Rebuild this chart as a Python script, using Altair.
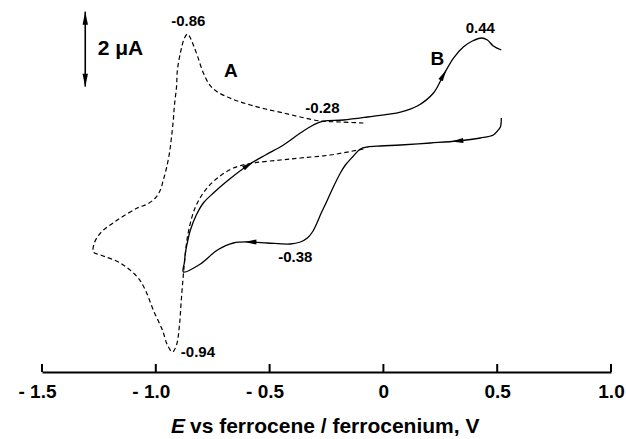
import math
import altair as alt
import pandas as pd

# ---- data (potential in V, current in uA, relative zero) ----
# Curve A (dashed)
dash_E = [-0.088, -0.189, -0.277, -0.365, -0.439, -0.518, -0.584, -0.641, -0.685, -0.729,
          -0.760, -0.791, -0.817, -0.835, -0.848, -0.861, -0.874, -0.892, -0.905, -0.909,
          -0.918, -0.923, -0.931, -0.940, -0.953, -0.967, -0.980, -1.002, -1.037, -1.081,
          -1.169, -1.243, -1.270, -1.274, -1.243, -1.156, -1.081, -1.046, -1.011, -0.971,
          -0.949, -0.927, -0.909, -0.896, -0.888, -0.879, -0.870, -0.857, -0.826, -0.782,
          -0.729, -0.659, -0.571, -0.453, -0.365, -0.233, -0.088]
dash_I = [0.72, 0.747, 0.773, 0.88, 0.987, 1.093, 1.2, 1.307, 1.413, 1.547,
          1.707, 2.053, 2.507, 2.80, 2.987, 3.093, 2.987, 2.587, 2.133, 1.68,
          1.2, 0.8, 0.347, -0.08, -0.48, -0.8, -1.067, -1.28, -1.44, -1.547,
          -1.867, -2.213, -2.48, -2.72, -2.80, -3.013, -3.387, -3.733, -4.267, -4.80,
          -5.20, -5.387, -5.20, -4.667, -4.0, -3.333, -2.747, -2.187, -1.52, -1.067,
          -0.747, -0.48, -0.347, -0.267, -0.213, -0.133, 0.027]

# Curve B (solid)
solid_E = [0.518, 0.514, 0.501, 0.483, 0.426, 0.325, 0.207, 0.075, -0.013, -0.070,
           -0.101, -0.136, -0.167, -0.189, -0.220, -0.246, -0.277, -0.290, -0.312, -0.334,
           -0.365, -0.409, -0.510, -0.584, -0.659, -0.729, -0.804, -0.879, -0.874, -0.870,
           -0.857, -0.848, -0.822, -0.791, -0.747, -0.681, -0.593, -0.518, -0.439, -0.365,
           -0.308, -0.264, -0.176, -0.070, 0.075, 0.149, 0.220, 0.264, 0.308, 0.351,
           0.391, 0.431, 0.457, 0.483, 0.518]
solid_I = [0.853, 0.613, 0.507, 0.40, 0.32, 0.24, 0.187, 0.133, 0.107, 0.08,
           0.027, -0.187, -0.40, -0.613, -0.987, -1.333, -1.733, -1.92, -2.187, -2.347,
           -2.453, -2.507, -2.48, -2.453, -2.48, -2.667, -3.04, -3.253, -2.987, -2.747,
           -2.347, -2.133, -1.733, -1.413, -1.147, -0.80, -0.40, -0.133, 0.133, 0.453,
           0.667, 0.773, 0.80, 0.88, 1.013, 1.173, 1.52, 2.0, 2.453, 2.747,
           2.907, 2.987, 2.933, 2.773, 2.667]

# indices on curve B where scan-direction arrows sit
arrow_idx = [5, 23, 36, 47]

tick_values = [-1.5, -1.0, -0.5, 0.0, 0.5, 1.0]
tick_labels = ["- 1.5", "- 1.0", "- 0.5", "0", "0.5", "1.0"]

peak_labels = ["-0.86", "-0.28", "0.44", "-0.38", "-0.94"]
peak_E = [-0.857, -0.268, 0.426, -0.387, -0.815]
peak_I = [3.307, 0.987, 3.12, -2.979, -5.507]

curve_labels = ["A", "B"]
curve_label_E = [-0.670, 0.237]
curve_label_I = [1.947, 2.267]

scale_E = -1.31
scale_top = 3.69
scale_len = 2.0
scale_label = "2 \u03bcA"
scale_label_E = -1.1555
scale_label_I = 2.533

title_italic = "E"
title_rest = "vs ferrocene / ferrocenium, V"

# ---- layout ----
W, H = 569, 367
x_dom = [-1.5, 1.0]
y_dom = [-5.92, 3.8667]
FONT = "Liberation Sans"

xs = alt.Scale(domain=x_dom, nice=False, zero=False)
ys = alt.Scale(domain=y_dom, nice=False, zero=False)

label_expr = " : ".join(
    f"abs(datum.value - ({v})) < 1e-6 ? '{t}'" for v, t in zip(tick_values, tick_labels)
) + " : ''"

x_axis = alt.Axis(values=tick_values, labelExpr=label_expr, ticks=False, tickSize=0,
                  grid=False, domainColor="black", domainWidth=2, title=None,
                  labelFont=FONT, labelFontWeight="bold", labelFontSize=19,
                  labelColor="black", labelBaseline="alphabetic", labelPadding=25,
                  labelFlush=False, labelOverlap=False,
                  labelOffset={"condition": {"test": "datum.value < 0", "value": -5}, "value": 0})

dash_df = pd.DataFrame({"E": dash_E, "I": dash_I, "i": range(len(dash_E))})
solid_df = pd.DataFrame({"E": solid_E, "I": solid_I, "i": range(len(solid_E))})

px_per_V = W / (x_dom[1] - x_dom[0])
px_per_uA = H / (y_dom[1] - y_dom[0])
arr_rows = []
for k in arrow_idx:
    dx = (solid_E[k + 1] - solid_E[k - 1]) * px_per_V
    dy = -(solid_I[k + 1] - solid_I[k - 1]) * px_per_uA
    ang = math.degrees(math.atan2(dy, dx)) % 360
    arr_rows.append({"E": solid_E[k], "I": solid_I[k], "ang": ang})
arr_df = pd.DataFrame(arr_rows)

dashed = alt.Chart(dash_df).mark_line(
    color="black", strokeWidth=1.2, strokeDash=[4.5, 3], interpolate="catmull-rom"
).encode(
    x=alt.X("E:Q", scale=xs, axis=x_axis),
    y=alt.Y("I:Q", scale=ys, axis=None),
    order=alt.Order("i:Q"),
)

solid = alt.Chart(solid_df).mark_line(
    color="black", strokeWidth=1.3, interpolate="catmull-rom"
).encode(
    x=alt.X("E:Q", scale=xs),
    y=alt.Y("I:Q", scale=ys),
    order=alt.Order("i:Q"),
)

arrows = alt.Chart(arr_df).mark_point(
    shape="M1,0L-1,-0.42L-1,0.42Z", size=140, filled=True, color="black", opacity=1
).encode(
    x=alt.X("E:Q", scale=xs),
    y=alt.Y("I:Q", scale=ys),
    angle=alt.Angle("ang:Q", scale=None),
)

peaks = alt.Chart(pd.DataFrame({"E": peak_E, "I": peak_I, "t": peak_labels})).mark_text(
    font=FONT, fontWeight="bold", fontSize=15, color="black", align="center", baseline="alphabetic"
).encode(x=alt.X("E:Q", scale=xs), y=alt.Y("I:Q", scale=ys), text="t:N")

curves = alt.Chart(pd.DataFrame({"E": curve_label_E, "I": curve_label_I, "t": curve_labels})).mark_text(
    font=FONT, fontWeight="bold", fontSize=19, color="black", align="center", baseline="alphabetic"
).encode(x=alt.X("E:Q", scale=xs), y=alt.Y("I:Q", scale=ys), text="t:N")

bar_df = pd.DataFrame({"E": [scale_E], "top": [scale_top], "bot": [scale_top - scale_len]})
bar = alt.Chart(bar_df).mark_rule(color="black", strokeWidth=1.6).encode(
    x=alt.X("E:Q", scale=xs), y=alt.Y("top:Q", scale=ys), y2="bot:Q")
head_top = alt.Chart(bar_df).mark_point(
    shape="M0,-1L0.42,1L-0.42,1Z", size=169, filled=True, color="black", opacity=1, yOffset=6.5
).encode(x=alt.X("E:Q", scale=xs), y=alt.Y("top:Q", scale=ys))
head_bot = alt.Chart(bar_df).mark_point(
    shape="M0,1L0.42,-1L-0.42,-1Z", size=169, filled=True, color="black", opacity=1, yOffset=-6.5
).encode(x=alt.X("E:Q", scale=xs), y=alt.Y("bot:Q", scale=ys))
bar_text = alt.Chart(pd.DataFrame({"E": [scale_label_E], "I": [scale_label_I], "t": [scale_label]})).mark_text(
    font=FONT, fontWeight="bold", fontSize=21, color="black", align="center", baseline="alphabetic"
).encode(x=alt.X("E:Q", scale=xs), y=alt.Y("I:Q", scale=ys), text="t:N")

ticks = alt.Chart(pd.DataFrame({"E": tick_values})).mark_rule(color="black", strokeWidth=2).encode(
    x=alt.X("E:Q", scale=xs), y=alt.value(H - 8), y2=alt.value(H))

t1 = alt.Chart(pd.DataFrame({"t": [title_italic]})).mark_text(
    font=FONT, fontWeight="bold", fontStyle="italic", fontSize=21, color="black",
    align="left", baseline="alphabetic"
).encode(x=alt.value(129), y=alt.value(428), text="t:N")
t2 = alt.Chart(pd.DataFrame({"t": [title_rest]})).mark_text(
    font=FONT, fontWeight="bold", fontSize=21, color="black",
    align="left", baseline="alphabetic"
).encode(x=alt.value(148), y=alt.value(428), text="t:N")

chart = alt.layer(
    dashed, solid, arrows, peaks, curves, bar, head_top, head_bot, bar_text, ticks, t1, t2
).properties(
    width=W, height=H,
    autosize=alt.AutoSizeParams(type="none"),
    padding={"left": 42, "top": 5, "right": 15, "bottom": 67},
    background="white",
).configure_view(stroke=None)

chart.save("out.html", embed_options={"renderer": "svg", "actions": False})
